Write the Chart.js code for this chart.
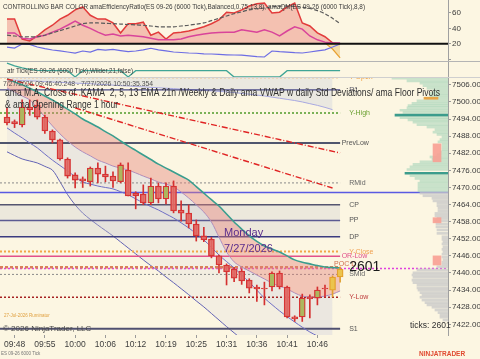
<!DOCTYPE html>
<html>
<head>
<meta charset="utf-8">
<script src="https://cdn.jsdelivr.net/npm/chart.js@4.4.0/dist/chart.umd.min.js"></script>
<style>
  html, body { margin: 0; padding: 0; background: #fcf6e2; }
  #wrap { position: relative; width: 480px; height: 359px; overflow: hidden; background: #fcf6e2; }
  canvas { position: absolute; left: 0; }
</style>
</head>
<body>
<div id="wrap">
  <canvas id="osc" width="480" height="62" style="top:0"></canvas>
  <canvas id="atr" width="480" height="16" style="top:62px"></canvas>
  <canvas id="main" width="480" height="281" style="top:78px"></canvas>
</div>
<script>
// ---- data ----
const timeLabels = ['09:48', '09:55', '10:00', '10:06', '10:12', '10:19', '10:25', '10:31', '10:36', '10:41', '10:46'];
const timeTickBars = [1, 5, 9, 13, 17, 21, 25, 29, 33, 37, 41];
const priceTicks = [7422, 7428, 7434, 7440, 7446, 7452, 7458, 7464, 7470, 7476, 7482, 7488, 7494, 7500, 7506];
const oscTicks = [0, 20, 40, 60];

const opens  = [7494.7, 7493.1, 7491.9, 7498.2, 7498.9, 7494.7, 7489.8, 7486.7, 7480.0, 7474.4, 7473.0, 7472.0, 7476.8, 7474.7, 7474.0,
                7472.0, 7476.1, 7468.0, 7467.7, 7464.6, 7470.5, 7466.0, 7470.5, 7462.1, 7461.0, 7457.2, 7453.0, 7451.9, 7446.0, 7442.8,
                7441.4, 7440.7, 7437.5, 7435.1, 7434.7, 7435.1, 7440.0, 7435.1, 7424.6, 7424.6, 7431.6, 7431.2, 7434.7, 7434.0, 7438.6];
const highs  = [7497.9, 7493.7, 7500.7, 7500.7, 7500.7, 7495.4, 7490.2, 7487.0, 7480.4, 7475.1, 7473.7, 7477.2, 7478.6, 7477.5, 7475.5,
                7478.6, 7478.6, 7468.5, 7470.9, 7473.3, 7471.6, 7471.6, 7472.3, 7465.3, 7463.9, 7458.6, 7456.0, 7452.5, 7446.3, 7443.2,
                7442.0, 7441.4, 7438.0, 7435.8, 7436.8, 7440.4, 7440.7, 7435.4, 7425.0, 7432.6, 7432.3, 7435.1, 7435.8, 7439.0, 7442.1];
const lows   = [7491.9, 7491.0, 7491.2, 7495.3, 7494.0, 7489.0, 7485.6, 7479.6, 7473.3, 7469.8, 7470.0, 7470.5, 7471.6, 7472.0, 7470.0,
                7471.6, 7467.0, 7462.5, 7464.0, 7464.0, 7464.6, 7464.2, 7461.1, 7458.2, 7455.8, 7451.2, 7451.0, 7445.3, 7440.0, 7435.8,
                7437.0, 7436.0, 7433.0, 7430.0, 7428.8, 7433.7, 7434.4, 7424.2, 7423.0, 7423.0, 7424.2, 7428.8, 7431.6, 7431.6, 7436.8];
const closes = [7492.6, 7492.3, 7498.2, 7497.2, 7494.7, 7489.8, 7486.7, 7480.0, 7474.0, 7472.6, 7472.3, 7476.8, 7474.7, 7473.7, 7472.3,
                7477.9, 7467.0, 7467.0, 7464.6, 7470.5, 7466.0, 7470.5, 7461.8, 7461.0, 7457.2, 7453.0, 7451.6, 7446.0, 7442.8, 7440.4,
                7438.2, 7437.2, 7434.7, 7434.4, 7434.4, 7440.0, 7435.1, 7424.6, 7423.9, 7431.2, 7430.9, 7434.0, 7434.4, 7438.6, 7441.4];
const yellowFromBar = 43;

// moving average cloud and VWAP bands
const emaTeal = [7508.1, 7507.0, 7506.0, 7504.8, 7503.5, 7502.1, 7500.7, 7499.1, 7497.5, 7495.8, 7494.0, 7492.6, 7491.2, 7489.6, 7488.1,
                 7486.3, 7484.6, 7483.0, 7481.4, 7479.8, 7478.2, 7476.8, 7475.4, 7474.0, 7472.6, 7470.3, 7468.0, 7465.7, 7463.5, 7460.7,
                 7457.9, 7455.4, 7453.0, 7451.1, 7449.5, 7448.4, 7447.4, 7446.0, 7444.6, 7443.8, 7443.2, 7442.6, 7442.1, 7441.9, 7441.8];
const kamaFast = [7504.9, 7503.5, 7502.1, 7500.7, 7497.9, 7494.7, 7491.6, 7488.8, 7486.3, 7484.2, 7482.5, 7481.1, 7479.6, 7478.6, 7477.5,
                  7476.8, 7476.1, 7475.1, 7474.0, 7473.0, 7471.9, 7471.2, 7470.2, 7468.4, 7466.3, 7463.9, 7461.4, 7457.9, 7452.6, 7447.4,
                  7443.9, 7442.1, 7440.7, 7439.3, 7437.9, 7436.5, 7435.4, 7434.4, 7433.0, 7431.9, 7431.6, 7431.6, 7431.9, 7432.6, 7433.7];
const vwapUpper = [7507.7, 7507.6, 7507.5, 7507.4, 7507.3, 7507.1, 7507.0, 7506.9, 7506.7, 7506.6, 7506.5, 7506.4, 7506.2, 7506.1, 7505.9,
                   7505.7, 7505.6, 7505.4, 7505.3, 7505.1, 7505.0, 7504.8, 7504.7, 7504.5, 7504.4, 7504.2, 7504.0, 7503.9, 7503.7, 7503.5,
                   7503.3, 7503.0, 7502.7, 7502.4, 7502.1, 7501.7, 7501.3, 7500.9, 7500.5, 7500.0, 7499.4, 7498.8, 7498.1, 7497.3, null];
const vwapLower1 = [7490.9, 7489.1, 7487.4, 7485.6, 7483.9, 7481.7, 7479.6, 7477.7, 7475.8, 7473.8, 7471.9, 7471.2, 7470.5, 7470.0, 7469.5,
                    7468.5, 7467.4, 7466.0, 7464.6, 7463.3, 7462.1, 7460.7, 7459.3, 7457.6, 7455.8, 7453.8, 7451.6, 7449.0, 7446.3, 7444.0,
                    7441.8, 7439.3, 7436.8, 7434.0, 7431.2, 7428.9, 7426.7, 7424.7, 7422.8, 7421.0, 7419.3, 7417.9, 7416.6, 7415.4, null];
const vwapLower2 = [7482.5, 7481.2, 7480.0, 7479.3, 7478.6, 7477.4, 7476.1, 7472.0, 7467.5, 7463.9, 7461.0, 7458.8, 7456.8, 7454.9, 7453.0,
                    7450.9, 7448.8, 7446.7, 7444.6, 7442.6, 7440.7, 7438.6, 7436.6, 7434.5, 7432.4, 7430.2, 7428.1, 7425.8, 7423.5, 7421.2,
                    7419.0, 7416.8, 7414.6, 7412.4, 7410.2, 7408.0, 7405.8, 7403.6, 7401.4, 7399.2, 7397.0, 7394.8, 7392.6, 7390.4, null];

// regression channel lines (bar, price) end points
const chanUpperBars = [0, 44], chanUpperVals = [7508.0, 7482.1];
const chanLowerBars = [9, 43], chanLowerVals = [7497.9, 7469.8];

// pivot / session levels
const levelNames  = ['Y-Open', 'R1', 'Y-High', 'PrevLow', 'RMid', '', 'CP', 'PP', 'DP', 'Y-Close', 'OR-Low', 'POC D', '', 'SMid', 'Y-Low', 'S1'];
const levelValues = [7508.6, 7504.2, 7496.1, 7485.6, 7471.6, 7468.2, 7463.9, 7458.4, 7452.7, 7447.5, 7445.9, 7442.0, 7441.6, 7439.5, 7431.5, 7420.4];
const lastTickCount = '2601';

// oscillator panel
const erRed = [52, 52, 26, 23.5, 30, 38, 44, 52, 57, 64, 68, 57, 52, 52, 47, 34, 46, 46, 48, 31, 35, 26, 34, 35, 36.5,
               39, 42, 46, 51, 61, 60, 64, 69, 72, 73, 60, 61, 68, 73, 47, 43, 34, 29, 21, 20];
const erMagenta = [34, 34, 27, 26, 29, 31, 35, 39, 44, 49.5, 44, 40, 35, 31, 32.5, 30, 31, 30, 29, 27, 25, 25, 25, 26, 29,
                   31, 32.5, 34, 34.5, 35, 35, 38, 36.5, 35, 38, 35, 30, 36.5, 42, 39, 30, 25, 22, 21, 21];
const erSlow = [31, 30, 29, 29, 29, 31, 34, 37, 40, 43, 46, 47, 47, 46.5, 46, 45.5, 45, 44.5, 44, 43, 42, 42, 42, 43, 44,
                45.5, 47, 50, 53, 56, 59, 61.5, 64, 65.5, 66.5, 68, 69, 69, 68.5, 67.5, 66, 63, 59, 53, 46];
const qmBlue = [15.6, 14.3, 19.5, 19, 15.6, 13.5, 11.7, 10.5, 9.1, 7.8, 10.4, 9.1, 12.5, 11.5, 12.5, 11, 9.5, 10.4, 12, 14, 12, 10.5, 9.1, 8.5, 7.8,
                7.5, 6.8, 6.5, 6, 5.5, 5.2, 5, 4, 3, 2.6, 10.4, 9.5, 9, 8.2, 7.8, 9.1, 10.5, 12, 15.6, 19.6];
const qmOrange = [null, null, null, null, null, null, null, null, null, null, null, null, null, null, null, null, null, null, null, null,
                  null, null, null, null, null, null, null, null, null, null, null, null, null, null, null, null, null, null, null, null,
                  null, null, 21, 13, 1.5];
const oscLevel = 20;

// atr panel
const atrTicks = [6.2, 5.75, 5.45, 5.2, 5.05, 5, 5, 5, 5, 4, 5, 5, 5, 5, 5, 5, 4, 5, 5, 5, 5, 5, 5, 5, 5,
                  5, 5, 5, 5, 5, 4, 4, 4, 4, 4, 4, 4, 5, 5, 5, 5, 5, 5, 5, 5];

// volume profile (price level, volume)
const profPrice = [7508.3, 7507.4, 7506.6, 7505.7, 7504.8, 7503.9, 7503.0, 7502.2, 7501.3, 7500.4, 7499.5, 7498.7, 7497.9, 7497.1, 7496.3,
                   7495.4, 7494.5, 7493.7, 7492.9, 7492.0, 7491.2, 7490.3, 7489.4, 7488.6, 7487.7, 7486.8, 7486.0, 7485.1, 7484.2, 7483.3,
                   7482.5, 7481.6, 7480.7, 7479.9, 7479.0, 7478.1, 7477.2, 7476.3, 7475.0, 7474.1, 7473.2, 7472.3, 7471.5, 7470.6, 7469.7,
                   7468.8, 7468.0, 7467.1, 7466.2, 7465.3, 7464.5, 7463.6, 7462.7, 7461.8, 7460.9, 7460.1, 7459.2, 7458.3, 7457.2, 7456.2,
                   7455.1, 7453.9, 7452.7, 7451.8, 7451.0, 7450.2, 7449.2, 7448.3, 7447.5, 7446.6, 7445.6, 7444.7, 7443.8, 7443.0, 7442.2,
                   7441.1, 7440.1, 7439.3, 7438.5, 7437.5, 7436.6, 7435.8, 7434.8, 7434.0, 7433.1, 7432.3, 7431.5, 7430.5, 7429.6, 7428.8,
                   7428.0, 7427.0, 7426.1, 7425.3, 7424.5, 7423.5];
const profVol = [56, 41, 28, 25, 21, 15, 18, 18, 22, 31, 36, 40, 41, 48, 45,
                 53, 48, 40, 35, 31, 21, 13, 15, 11, 6, 8, 10, 6, 6, 6,
                 8, 11, 18, 16, 28, 35, 38, 41, 43, 38, 33, 28, 30, 30, 30,
                 30, 28, 25, 16, 15, 11, 11, 10, 10, 13, 13, 11, 13, 12, 12,
                 11, 11, 6, 6, 5, 6, 5, 6, 5, 6, 6, 5, 6, 6, 11,
                 31, 35, 36, 35, 36, 35, 31, 31, 30, 28, 26, 28, 26, 23, 21,
                 16, 13, 10, 8, 8, 5];
const profPocs = [7495.4, 7475.0];
const profValueHigh = 7501.3;
const profSplit = 7468.4;
const imbalanceLo = [7479.0, 7457.6, 7442.8];
const imbalanceHi = [7485.3, 7459.4, 7446.0];

// ---- layout helpers ----
const FONT = '"Liberation Sans", Arial, sans-serif';
const X_MIN = -0.925, X_MAX = 58.25;
const AXIS_W = 32;
const bars = opens.map((_, i) => i);
const pts = arr => arr.map((v, i) => ({ x: i, y: v }));

function hiddenX() {
  return { type: 'linear', min: X_MIN, max: X_MAX, display: false, offset: false };
}
// right-hand value axis; labels are drawn by the text plugins so the plot area keeps its full height
function rightAxis(min, max, ticks) {
  return {
    type: 'linear', position: 'right', min: min, max: max, offset: false,
    afterFit(s) { s.width = AXIS_W; },
    afterBuildTicks(s) { s.ticks = ticks.map(v => ({ value: v })); },
    ticks: { display: false },
    grid: { drawOnChartArea: false, tickLength: 3, color: '#9a9a9a', offset: false },
    border: { display: true, color: '#a0a0a0' }
  };
}
function drawYLabels(chart, c, ticks, fmt) {
  const y = chart.scales.y;
  c.font = '8px ' + FONT; c.fillStyle = '#3a3a3a'; c.textBaseline = 'middle'; c.textAlign = 'left';
  ticks.forEach(v => { const t = fmt(v); if (t) c.fillText(t, chart.chartArea.right + 4, y.getPixelForValue(v)); });
}
const baseOpts = {
  responsive: false, animation: false, devicePixelRatio: 1,
  layout: { padding: 0 },
  plugins: { legend: { display: false }, tooltip: { enabled: false } },
  elements: { point: { radius: 0 }, line: { tension: 0 } }
};

function textPlugin(id, fn) {
  return { id: id, afterDraw(chart) { const c = chart.ctx; c.save(); fn(chart, c); c.restore(); } };
}

// ---- oscillator panel ----
new Chart(document.getElementById('osc'), {
  type: 'line',
  data: {
    datasets: [
      { data: pts(erRed), borderColor: '#e23b3b', borderWidth: 1.5, fill: { value: oscLevel }, backgroundColor: 'rgba(236,140,128,0.5)', order: 5 },
      { data: pts(erMagenta), borderColor: '#d9449a', borderWidth: 1.5, order: 4 },
      { data: pts(erSlow), borderColor: '#5a5a5a', borderWidth: 1.2, borderDash: [4, 2], tension: 0.3, order: 3 },
      { data: pts(qmBlue), borderColor: '#6d6de4', borderWidth: 1.2, order: 2 },
      { data: pts(qmOrange), borderColor: '#e8a030', borderWidth: 1.2, fill: { value: oscLevel }, backgroundColor: 'rgba(240,200,120,0.55)', order: 6 },
      { data: [{ x: X_MIN, y: oscLevel }, { x: X_MAX, y: oscLevel }], borderColor: '#111', borderWidth: 2, order: 1 }
    ]
  },
  options: Object.assign({}, baseOpts, {
    scales: { x: hiddenX(), y: rightAxis(-3.9, 76.9, oscTicks) }
  }),
  plugins: [textPlugin('oscText', (chart, c) => {
    drawYLabels(chart, c, oscTicks, v => (v === 0 ? '' : String(v)));
    c.font = '8px ' + FONT; c.fillStyle = '#3a3a3a'; c.textBaseline = 'middle';
    c.fillText('CONTROLLING BAR COLOR amaEfficiencyRatio(ES 09-26 (6000 Tick),Balanced,0.75,13,8), amaQM(ES 09-26 (6000 Tick),8,8)', 3, 7, 362);
    c.strokeStyle = '#b4b4b4'; c.lineWidth = 1;
    c.beginPath(); c.moveTo(0, 61.5); c.lineTo(480, 61.5); c.stroke();
  })]
});

// ---- atr panel ----
new Chart(document.getElementById('atr'), {
  type: 'line',
  data: { datasets: [{ data: pts(atrTicks), borderColor: '#3fa596', borderWidth: 1.3 }] },
  options: Object.assign({}, baseOpts, {
    scales: { x: hiddenX(), y: rightAxis(3.84, 6.38, []) }
  }),
  plugins: [textPlugin('atrText', (chart, c) => {
    c.font = '8px ' + FONT; c.fillStyle = '#3a3a3a'; c.textBaseline = 'middle';
    c.fillText('atr Tick(ES 09-26 (6000 Tick),Wilder,21,false)', 7, 8.5, 126);
    c.strokeStyle = '#cfcfcf'; c.lineWidth = 1;
    c.beginPath(); c.moveTo(0, 15.5); c.lineTo(480, 15.5); c.stroke();
  })]
});

// ---- main price panel ----
const levelStyle = {
  'Y-Open':  { c: '#f0a040', w: 1.5, d: [2, 2], t: '#f0a040' },
  'R1':      { c: '#4a4a88', w: 1.2, d: [], t: '#5a5a6a' },
  'Y-High':  { c: '#4f9a2a', w: 1.5, d: [2, 2], t: '#6aa030' },
  'PrevLow': { c: '#50566e', w: 2, d: [], t: '#555' },
  'RMid':    { c: '#8a8a8a', w: 1, d: [2, 2], t: '#666' },
  'CP':      { c: '#555570', w: 1.5, d: [], t: '#555' },
  'PP':      { c: '#5a5a92', w: 1.5, d: [], t: '#555' },
  'DP':      { c: '#3a3a80', w: 1.5, d: [], t: '#555' },
  'Y-Close': { c: '#f2a548', w: 2, d: [2, 2], t: '#f0a050' },
  'OR-Low':  { c: '#e2508a', w: 1.5, d: [], t: '#e2508a' },
  'POC D':   { c: '#d8805a', w: 2.5, d: [3, 2], t: '#d07050' },
  'SMid':    { c: '#8a8a8a', w: 1, d: [2, 2], t: '#666' },
  'Y-Low':   { c: '#a52222', w: 1.5, d: [2, 2], t: '#c04040' },
  'S1':      { c: '#505070', w: 2, d: [], t: '#555' }
};
const fullWidthStyle = [{ c: '#5a5ae2', w: 1.5, d: [] }, { c: '#e040e0', w: 1.5, d: [2, 2] }];

const ds = [];
// VWAP upper band shade
ds.push({ type: 'line', data: pts(vwapUpper), borderColor: '#a8a8e0', borderWidth: 1, fill: 'end', backgroundColor: 'rgba(200,205,220,0.35)', order: 30 });
// lower bands
const iLower1 = ds.length;
ds.push({ type: 'line', data: pts(vwapLower1), borderColor: '#6e6ec4', borderWidth: 1, tension: 0.3, order: 9 });
ds.push({ type: 'line', data: pts(vwapLower2), borderColor: '#6262b4', borderWidth: 1, tension: 0.3, fill: { target: iLower1 }, backgroundColor: 'rgba(215,215,225,0.25)', order: 29 });
// MA cloud
const iFast = ds.length;
ds.push({ type: 'line', data: pts(kamaFast), borderColor: '#a090cc', borderWidth: 1, tension: 0.3, order: 9 });
ds.push({ type: 'line', data: pts(vwapLower1), borderColor: 'rgba(0,0,0,0)', borderWidth: 0, tension: 0.3, fill: { target: iFast }, backgroundColor: 'rgba(215,212,222,0.45)', order: 28 });
ds.push({ type: 'line', data: pts(emaTeal), borderColor: '#3a9e8e', borderWidth: 1.6, tension: 0.3, fill: { target: iFast }, backgroundColor: 'rgba(228,128,122,0.42)', order: 8 });

// levels
const levelData = v => [{ x: X_MIN, y: v }, { x: 44, y: v }];
let fullK = 0;
const levelIdx = {};
levelNames.forEach((n, k) => {
  const st = n ? levelStyle[n] : fullWidthStyle[fullK++];
  const data = n ? levelData(levelValues[k]) : [{ x: X_MIN, y: levelValues[k] }, { x: X_MAX, y: levelValues[k] }];
  levelIdx[n || ('full' + fullK)] = ds.length;
  ds.push({ type: 'line', data: data, borderColor: st.c, borderWidth: st.w, borderDash: st.d, order: 10 });
});
// shaded pivot band CP -> DP
ds.push({ type: 'line', data: levelData(levelValues[levelNames.indexOf('CP')]), borderWidth: 0, borderColor: 'rgba(0,0,0,0)',
          fill: { target: levelIdx['DP'] }, backgroundColor: 'rgba(200,200,205,0.3)', order: 27 });

// regression channel
ds.push({ type: 'line', data: chanUpperBars.map((b, k) => ({ x: b, y: chanUpperVals[k] })), borderColor: '#e02424', borderWidth: 1.4, borderDash: [6, 2, 1, 2], order: 7 });
ds.push({ type: 'line', data: chanLowerBars.map((b, k) => ({ x: b, y: chanLowerVals[k] })), borderColor: '#e02424', borderWidth: 1.4, borderDash: [6, 2, 1, 2], order: 7 });

// volume profile
const volToBars = 1 / 7.57;
ds.push({
  type: 'bar', indexAxis: 'y', grouped: false, barThickness: 2, order: 6,
  data: profPrice.map((p, k) => ({ y: p, x: [X_MAX - profVol[k] * volToBars, X_MAX] })),
  backgroundColor: profPrice.map(p => profPocs.includes(p) ? '#3c9c8c' : (p > profSplit ? 'rgba(150,205,178,0.5)' : 'rgba(200,200,200,0.75)'))
});
ds.push({
  type: 'bar', indexAxis: 'y', grouped: false, barThickness: 2, order: 5,
  data: [{ y: profValueHigh, x: [X_MAX - 24 * volToBars, X_MAX - 10 * volToBars] }], backgroundColor: '#e8a448'
});
ds.push({
  type: 'bar', grouped: false, barThickness: 8, order: 5,
  data: imbalanceLo.map((lo, k) => ({ x: X_MAX - 1.45, y: [lo, imbalanceHi[k]] })), backgroundColor: 'rgba(248,160,148,0.9)'
});

// candles
const isUp = i => closes[i] > opens[i];
ds.push({
  type: 'bar', grouped: false, barThickness: 1, order: 2,
  data: bars.map(i => ({ x: i, y: [lows[i], highs[i]] })),
  backgroundColor: bars.map(i => (i >= yellowFromBar ? '#e0a030' : '#d43030'))
});
ds.push({
  type: 'bar', grouped: false, barThickness: 6, order: 1, borderSkipped: false, borderWidth: 1.3,
  data: bars.map(i => ({ x: i, y: [opens[i], closes[i]] })),
  backgroundColor: bars.map(i => (i >= yellowFromBar ? '#ebc44c' : (isUp(i) ? '#adb75e' : 'rgba(226,110,104,0.85)'))),
  borderColor: bars.map(i => (i >= yellowFromBar ? '#e5a02c' : '#d63434'))
});

new Chart(document.getElementById('main'), {
  type: 'bar',
  data: { datasets: ds },
  options: Object.assign({}, baseOpts, {
    scales: {
      x: {
        type: 'linear', min: X_MIN, max: X_MAX, offset: false,
        afterBuildTicks(s) { s.ticks = timeTickBars.map(v => ({ value: v })); },
        afterFit(s) { s.height = 24; },
        ticks: { display: false },
        grid: { drawOnChartArea: false, tickLength: 3, color: '#9a9a9a', offset: false },
        border: { display: false }
      },
      y: rightAxis(7418.25, 7508.4, priceTicks)
    }
  }),
  plugins: [textPlugin('mainText', (chart, c) => {
    const x = chart.scales.x, y = chart.scales.y;
    drawYLabels(chart, c, priceTicks, v => v.toFixed(2));
    // time labels
    c.font = '8.5px ' + FONT; c.fillStyle = '#404040'; c.textAlign = 'center'; c.textBaseline = 'middle';
    timeTickBars.forEach((b, k) => c.fillText(timeLabels[k], x.getPixelForValue(b), chart.chartArea.bottom + 10));
    c.textAlign = 'left';
    // level labels
    c.font = '7px ' + FONT;
    const labelX = x.getPixelForValue(45.2);
    levelNames.forEach((n, k) => {
      if (!n) return;
      c.fillStyle = levelStyle[n].t;
      const shift = n === 'POC D' ? -2 : (n === 'OR-Low' || n === 'PrevLow' ? -1 : 0);
      c.fillText(n, x.getPixelForValue(45.2 + shift), y.getPixelForValue(levelValues[k]) - (n === 'POC D' ? 3 : 0));
    });
    c.font = '14px ' + FONT; c.fillStyle = '#1a1a1a';
    c.fillText(lastTickCount, labelX, y.getPixelForValue(levelValues[12]) - 1);
    // titles
    c.font = '8px ' + FONT; c.fillStyle = '#505050';
    c.fillText('7/27/2026 09:46:40.248 - 7/27/2026 10:50:35.354', 3, 6, 150);
    c.font = '10.5px ' + FONT; c.fillStyle = '#303030';
    c.fillText('ama M.A. Cross of  KAMA  2, 5, 13 EMA 21n /Weekly & Daily ama VWAP w daily Std Deviations/ ama Floor Pivots', 5, 15.5, 435);
    c.fillText('& ama Opening Range 1 hour', 5, 27.5, 113);
    // session date
    c.font = '11px ' + FONT; c.fillStyle = '#5a2d8c';
    c.fillText('Monday', 224, 155);
    c.fillText('7/27/2026', 224, 171);
    // footer texts
    c.font = '8.5px ' + FONT; c.fillStyle = '#303030';
    c.fillText('ticks: 2601', 410, 248);
    c.font = '8px ' + FONT; c.fillStyle = '#4a4a4a';
    c.fillText('\u00a9 2026 NinjaTrader, LLC', 3, 251);
    c.font = '4.5px ' + FONT; c.fillStyle = '#e0a040';
    c.fillText('27-Jul-2026 Ruminator', 4, 238);
    c.fillStyle = '#777';
    c.fillText('ES 09-26 6000 Tick', 1, 276);
    c.font = 'bold 6.5px ' + FONT; c.fillStyle = '#e04a30';
    c.fillText('NINJATRADER', 419, 276);
  })]
});
</script>
</body>
</html>
